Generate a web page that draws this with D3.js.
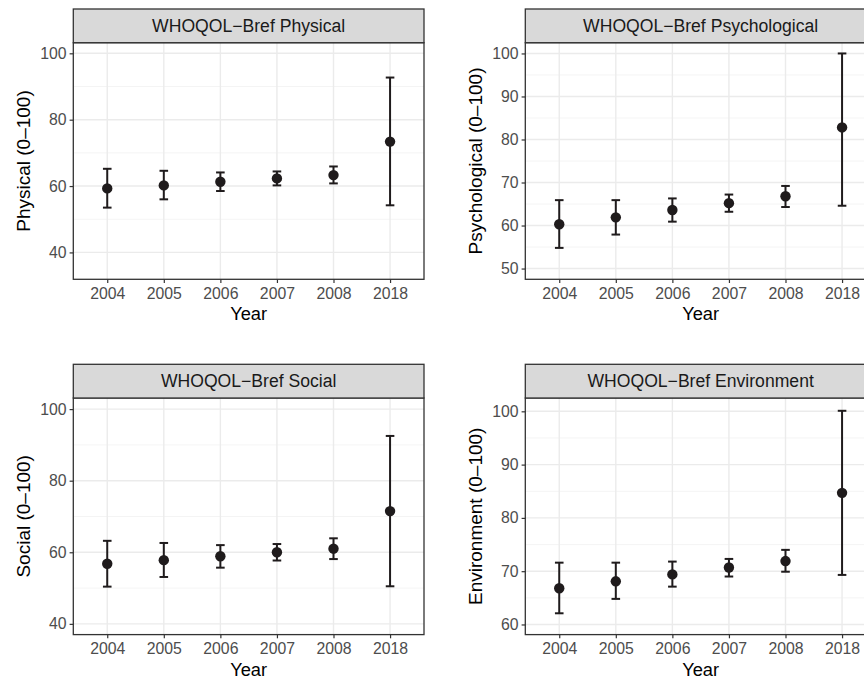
<!DOCTYPE html>
<html>
<head>
<meta charset="utf-8">
<script src="https://cdn.jsdelivr.net/npm/d3@7"></script>
<style>
  html, body { margin: 0; padding: 0; background: #fff; }
  svg { display: block; font-family: "Liberation Sans", Arial, sans-serif; }
</style>
</head>
<body>
<div id="chart"></div>
<script>
// data
const years = ["2004", "2005", "2006", "2007", "2008", "2018"];

const physicalMean  = [59.3, 60.2, 61.3, 62.3, 63.3, 73.4];
const physicalLower = [53.5, 56.0, 58.5, 60.2, 60.8, 54.2];
const physicalUpper = [65.2, 64.6, 64.1, 64.4, 65.9, 92.7];

const psychMean  = [60.3, 61.9, 63.6, 65.2, 66.8, 82.8];
const psychLower = [54.8, 57.9, 60.9, 63.2, 64.3, 64.6];
const psychUpper = [65.9, 65.9, 66.3, 67.2, 69.2, 100.0];

const socialMean  = [56.8, 57.8, 58.9, 60.0, 61.0, 71.5];
const socialLower = [50.4, 53.1, 55.7, 57.7, 58.1, 50.5];
const socialUpper = [63.2, 62.6, 62.0, 62.3, 63.9, 92.5];

const envMean  = [66.8, 68.1, 69.4, 70.7, 71.9, 84.7];
const envLower = [62.1, 64.8, 67.1, 69.0, 69.9, 69.3];
const envUpper = [71.6, 71.6, 71.8, 72.3, 74.0, 100.1];

const physicalTicks = [40, 60, 80, 100];
const psychTicks    = [50, 60, 70, 80, 90, 100];
const socialTicks   = [40, 60, 80, 100];
const envTicks      = [60, 70, 80, 90, 100];

const W = 864, H = 679;
const INK = "#1f1b1c";

const panels = [
  { title: "WHOQOL\u2212Bref Physical", ylab: "Physical (0\u2013100)", mean: physicalMean, lo: physicalLower, hi: physicalUpper,
    ticks: physicalTicks, minor: [50, 70, 90], domain: [31.9, 103.2], x0: 73.3, top: 9 },
  { title: "WHOQOL\u2212Bref Psychological", ylab: "Psychological (0\u2013100)", mean: psychMean, lo: psychLower, hi: psychUpper,
    ticks: psychTicks, minor: [55, 65, 75, 85, 95], domain: [47.5, 102.5], x0: 525.3, top: 9 },
  { title: "WHOQOL\u2212Bref Social", ylab: "Social (0\u2013100)", mean: socialMean, lo: socialLower, hi: socialUpper,
    ticks: socialTicks, minor: [50, 70, 90], domain: [37.0, 103.1], x0: 73.3, top: 364.3 },
  { title: "WHOQOL\u2212Bref Environment", ylab: "Environment (0\u2013100)", mean: envMean, lo: envLower, hi: envUpper,
    ticks: envTicks, minor: [65, 75, 85, 95], domain: [58.1, 102.5], x0: 525.3, top: 364.3 }
];

const PW = 350.7, STRIP = 33.7, PH = 236.6;

const svg = d3.select("#chart").append("svg")
  .attr("width", W).attr("height", H);

svg.append("rect").attr("width", W).attr("height", H).attr("fill", "#fff");

panels.forEach(p => {
  const g = svg.append("g").attr("transform", `translate(${p.x0},${p.top})`);
  const py = STRIP; // panel top inside g

  const x = d3.scalePoint().domain(years).range([0, PW]).padding(0.6);
  const y = d3.scaleLinear().domain(p.domain).range([py + PH, py]);

  // grid
  g.selectAll(".minor").data(p.minor).enter().append("line")
    .attr("x1", 0).attr("x2", PW)
    .attr("y1", d => y(d)).attr("y2", d => y(d))
    .attr("stroke", "#f1f1f1").attr("stroke-width", 0.8);
  g.selectAll(".majory").data(p.ticks).enter().append("line")
    .attr("x1", 0).attr("x2", PW)
    .attr("y1", d => y(d)).attr("y2", d => y(d))
    .attr("stroke", "#ebebeb").attr("stroke-width", 1.4);
  g.selectAll(".majorx").data(years).enter().append("line")
    .attr("x1", d => x(d)).attr("x2", d => x(d))
    .attr("y1", py).attr("y2", py + PH)
    .attr("stroke", "#ebebeb").attr("stroke-width", 1.4);

  // error bars
  const cap = 4.3;
  const bars = g.selectAll(".eb").data(years).enter().append("g");
  bars.append("line")
    .attr("x1", d => x(d)).attr("x2", d => x(d))
    .attr("y1", (d, i) => y(p.lo[i])).attr("y2", (d, i) => y(p.hi[i]))
    .attr("stroke", INK).attr("stroke-width", 2);
  bars.append("line")
    .attr("x1", d => x(d) - cap).attr("x2", d => x(d) + cap)
    .attr("y1", (d, i) => y(p.lo[i])).attr("y2", (d, i) => y(p.lo[i]))
    .attr("stroke", INK).attr("stroke-width", 2);
  bars.append("line")
    .attr("x1", d => x(d) - cap).attr("x2", d => x(d) + cap)
    .attr("y1", (d, i) => y(p.hi[i])).attr("y2", (d, i) => y(p.hi[i]))
    .attr("stroke", INK).attr("stroke-width", 2);
  bars.append("circle")
    .attr("cx", d => x(d)).attr("cy", (d, i) => y(p.mean[i]))
    .attr("r", 5.2).attr("fill", INK);

  // panel border
  g.append("rect").attr("x", 0).attr("y", py).attr("width", PW).attr("height", PH)
    .attr("fill", "none").attr("stroke", "#333").attr("stroke-width", 1.3);

  // strip
  g.append("rect").attr("x", 0).attr("y", 0).attr("width", PW).attr("height", STRIP)
    .attr("fill", "#d9d9d9").attr("stroke", "#333").attr("stroke-width", 1.3);
  g.append("text").attr("x", PW / 2).attr("y", STRIP / 2 + 6.3)
    .attr("text-anchor", "middle").attr("font-size", 17.6).attr("fill", "#1a1a1a")
    .text(p.title);

  // axes
  const xa = g.append("g").attr("transform", `translate(0,${py + PH})`)
    .call(d3.axisBottom(x).tickSize(3.7).tickPadding(4.5));
  const ya = g.append("g")
    .call(d3.axisLeft(y).tickValues(p.ticks).tickSize(3.7).tickPadding(3));
  [xa, ya].forEach(a => {
    a.select(".domain").remove();
    a.selectAll(".tick line").attr("stroke", "#333").attr("stroke-width", 1.2);
    a.selectAll(".tick text").attr("fill", "#4d4d4d").attr("font-size", 15.8)
      .attr("font-family", "Liberation Sans, Arial, sans-serif");
  });

  // axis titles
  g.append("text").attr("x", PW / 2).attr("y", py + PH + 41)
    .attr("text-anchor", "middle").attr("font-size", 18.3).attr("fill", "#000")
    .text("Year");
  g.append("text")
    .attr("transform", `translate(${-50 + 6.8},${py + PH / 2}) rotate(-90)`)
    .attr("text-anchor", "middle").attr("font-size", 19).attr("fill", "#000")
    .text(p.ylab);
});
</script>
</body>
</html>
